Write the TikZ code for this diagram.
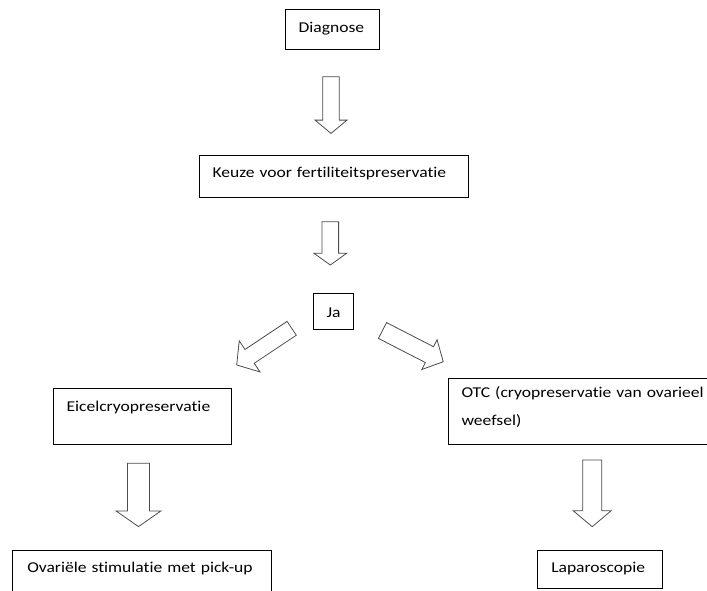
\documentclass[tikz,border=0pt]{standalone}
\usepackage{fontspec}
\setmainfont{Carlito}[Ligatures={NoCommon}, FakeStretch=1.17]
\begin{document}
\begin{tikzpicture}[x=1pt,y=1pt,
  box/.style={draw=black, line width=1.1pt, anchor=north west, inner ysep=0pt,
    inner xsep=13pt, align=left, font=\fontsize{15}{27.5}\selectfont},
  arrowline/.style={draw=black!70, fill=white, line width=0.8pt, line join=miter},
  % block arrow along +x: length, head length, shaft half-width, head half-width
  pics/barrow/.style n args={4}{code={
    \path[arrowline] (0,-#3) -- ({#1-#2},-#3) -- ({#1-#2},-#4) -- (#1,0)
      -- ({#1-#2},#4) -- ({#1-#2},#3) -- (0,#3) -- cycle;}}
]
\clip (0,0) rectangle (707,-590);
\fill[white] (0,0) rectangle (707,-590);

% boxes
\node[box, text width=68pt, text height=22.7pt, text depth=17.3pt] (diag) at (285,-9) {Diagnose};
\node[box, text width=243pt, text height=21.7pt, text depth=20.3pt] (keuze) at (199,-155) {Keuze voor fertiliteitspreservatie};
\node[box, text width=14pt, text height=23.7pt, text depth=12.3pt] (ja) at (313,-293) {Ja};
\node[box, text width=152pt, text height=22.7pt, text depth=33.3pt] (eicel) at (53,-388) {Eicelcryopreservatie};
\node[box, inner xsep=14.7pt, text width=229.6pt, text height=21.7pt, text depth=38.3pt] (ovar) at (12,-550) {Ovariële stimulatie met pick-up};
\node[box, text width=264pt, text height=19pt, text depth=47pt] (otc) at (448,-378) {OTC (cryopreservatie van ovarieel\\weefsel)};
\node[box, inner xsep=13.7pt, text width=97.6pt, text height=21.7pt, text depth=16.3pt] (lap) at (537,-550) {Laparoscopie};

% block arrows between the boxes
\pic[rotate=-90] at (331,-76.7) {barrow={56.7}{13.3}{8.3}{16}};
\pic[rotate=-90] at (330.3,-221.7) {barrow={43.3}{11.7}{8.3}{16.3}};
\pic[rotate=213.7] at (291.7,-328.3) {barrow={66.1}{15.5}{8.3}{18.7}};
\pic[rotate=-27.2] at (382.5,-330.5) {barrow={68.3}{15.5}{8.9}{16.7}};
\pic[rotate=-90] at (138.5,-463.3) {barrow={63.3}{15.7}{11}{22.5}};
\pic[rotate=-90] at (592.2,-460) {barrow={66.7}{16}{9.5}{19}};
\end{tikzpicture}
\end{document}
